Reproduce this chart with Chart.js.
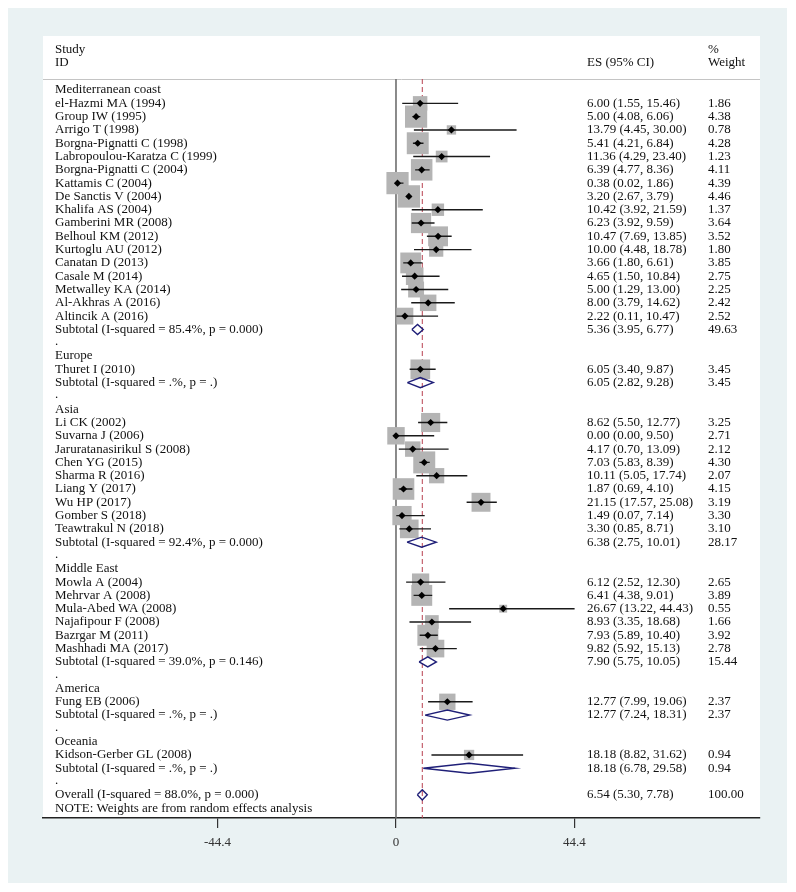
<!DOCTYPE html>
<html>
<head>
<meta charset="utf-8">
<script src="https://cdn.jsdelivr.net/npm/chart.js@4.4.1/dist/chart.umd.min.js"></script>
<style>
  html, body { margin: 0; padding: 0; background: #ffffff; }
  #wrap { position: relative; width: 796px; height: 892px; }
</style>
</head>
<body>
<div id="wrap"><canvas id="c"></canvas></div>
<script>
// ---------------- DATA ----------------
const groups = ['Mediterranean coast', 'Europe', 'Asia', 'Middle East', 'America', 'Oceania'];

const studies = [
  'el-Hazmi MA (1994)', 'Group IW (1995)', 'Arrigo T (1998)', 'Borgna-Pignatti C (1998)',
  'Labropoulou-Karatza C (1999)', 'Borgna-Pignatti C (2004)', 'Kattamis C (2004)', 'De Sanctis V (2004)',
  'Khalifa AS (2004)', 'Gamberini MR (2008)', 'Belhoul KM (2012)', 'Kurtoglu AU (2012)',
  'Canatan D (2013)', 'Casale M (2014)', 'Metwalley KA (2014)', 'Al-Akhras A (2016)', 'Altincik A (2016)',
  'Thuret I (2010)',
  'Li CK (2002)', 'Suvarna J (2006)', 'Jaruratanasirikul S (2008)', 'Chen YG (2015)', 'Sharma R (2016)',
  'Liang Y (2017)', 'Wu HP (2017)', 'Gomber S (2018)', 'Teawtrakul N (2018)',
  'Mowla A (2004)', 'Mehrvar A (2008)', 'Mula-Abed WA (2008)', 'Najafipour F (2008)', 'Bazrgar M (2011)', 'Mashhadi MA (2017)',
  'Fung EB (2006)',
  'Kidson-Gerber GL (2008)'
];
const studyGroup = [
  0,0,0,0,0,0,0,0,0,0,0,0,0,0,0,0,0,
  1,
  2,2,2,2,2,2,2,2,2,
  3,3,3,3,3,3,
  4,
  5
];
const esVal = [
  6.00, 5.00, 13.79, 5.41, 11.36, 6.39, 0.38, 3.20, 10.42, 6.23, 10.47, 10.00, 3.66, 4.65, 5.00, 8.00, 2.22,
  6.05,
  8.62, 0.00, 4.17, 7.03, 10.11, 1.87, 21.15, 1.49, 3.30,
  6.12, 6.41, 26.67, 8.93, 7.93, 9.82,
  12.77,
  18.18
];
const ciLow = [
  1.55, 4.08, 4.45, 4.21, 4.29, 4.77, 0.02, 2.67, 3.92, 3.92, 7.69, 4.48, 1.80, 1.50, 1.29, 3.79, 0.11,
  3.40,
  5.50, 0.00, 0.70, 5.83, 5.05, 0.69, 17.57, 0.07, 0.85,
  2.52, 4.38, 13.22, 3.35, 5.89, 5.92,
  7.99,
  8.82
];
const ciHigh = [
  15.46, 6.06, 30.00, 6.84, 23.40, 8.36, 1.86, 3.79, 21.59, 9.59, 13.85, 18.78, 6.61, 10.84, 13.00, 14.62, 10.47,
  9.87,
  12.77, 9.50, 13.09, 8.39, 17.74, 4.10, 25.08, 7.14, 8.71,
  12.30, 9.01, 44.43, 18.68, 10.40, 15.13,
  19.06,
  31.62
];
const weights = [
  1.86, 4.38, 0.78, 4.28, 1.23, 4.11, 4.39, 4.46, 1.37, 3.64, 3.52, 1.80, 3.85, 2.75, 2.25, 2.42, 2.52,
  3.45,
  3.25, 2.71, 2.12, 4.30, 2.07, 4.15, 3.19, 3.30, 3.10,
  2.65, 3.89, 0.55, 1.66, 3.92, 2.78,
  2.37,
  0.94
];

const subLabels = [
  'Subtotal (I-squared = 85.4%, p = 0.000)', 'Subtotal (I-squared = .%, p = .)',
  'Subtotal (I-squared = 92.4%, p = 0.000)', 'Subtotal (I-squared = 39.0%, p = 0.146)',
  'Subtotal (I-squared = .%, p = .)', 'Subtotal (I-squared = .%, p = .)'
];
const subES   = [5.36, 6.05, 6.38, 7.90, 12.77, 18.18];
const subLow  = [3.95, 2.82, 2.75, 5.75, 7.24, 6.78];
const subHigh = [6.77, 9.28, 10.01, 10.05, 18.31, 29.58];
const subWeight = [49.63, 3.45, 28.17, 15.44, 2.37, 0.94];

const overallLabel = 'Overall (I-squared = 88.0%, p = 0.000)';
const overallES = 6.54, overallLow = 5.30, overallHigh = 7.78, overallWeight = 100.00;
const noteText = 'NOTE: Weights are from random effects analysis';

const xTicks = [-44.4, 0, 44.4];

// ---------------- ROW LAYOUT ----------------
const rows = [];
const studyRow = new Array(studies.length);
const subRow = new Array(groups.length);
let r = 1;
groups.forEach((g, gi) => {
  rows.push({ row: r++, type: 'group', text: g });
  studies.forEach((s, i) => {
    if (studyGroup[i] === gi) { studyRow[i] = r; rows.push({ row: r++, type: 'study', i }); }
  });
  subRow[gi] = r;
  rows.push({ row: r++, type: 'sub', gi });
  rows.push({ row: r++, type: 'dot' });
});
const overallRow = r;
rows.push({ row: r++, type: 'overall' });
rows.push({ row: r++, type: 'note' });

const Y_MIN = 0.17, Y_MAX = 55.74;
const fmt = v => v.toFixed(2);
const GAP = () => ({ x: NaN, y: NaN });

// ---------------- DATASETS ----------------
const boxData = studies.map((s, i) => ({ x: esVal[i], y: studyRow[i] }));
const boxRadius = weights.map(w => 10.6 * Math.sqrt(w) / Math.SQRT2);
const pointData = studies.map((s, i) => ({ x: esVal[i], y: studyRow[i] }));

const ciData = [];
studies.forEach((s, i) => {
  ciData.push({ x: ciLow[i], y: studyRow[i] }, { x: ciHigh[i], y: studyRow[i] }, GAP());
});

const dh = 0.38;
const diamondData = [];
function addDiamond(es, lo, hi, row) {
  diamondData.push({ x: lo, y: row }, { x: es, y: row - dh }, { x: hi, y: row },
                   { x: es, y: row + dh }, { x: lo, y: row }, GAP());
}
subES.forEach((e, gi) => addDiamond(e, subLow[gi], subHigh[gi], subRow[gi]));
addDiamond(overallES, overallLow, overallHigh, overallRow);

// ---------------- PLUGINS ----------------
const FONT = '13px "Liberation Serif", "Times New Roman", serif';
const TXT = '#111111';

const bgPlugin = {
  id: 'bg',
  beforeDraw(chart) {
    const ctx = chart.ctx, ca = chart.chartArea;
    ctx.save();
    ctx.fillStyle = '#ffffff';
    ctx.fillRect(0, 0, chart.width, chart.height);
    ctx.fillStyle = '#eaf2f3';
    ctx.fillRect(8, 8, 779, 875);
    ctx.fillStyle = '#ffffff';
    ctx.fillRect(ca.left, 36, ca.right - ca.left, ca.bottom - 36);
    ctx.strokeStyle = '#c4c4c4';
    ctx.lineWidth = 1;
    ctx.beginPath();
    ctx.moveTo(ca.left, Math.round(ca.top) + 0.5);
    ctx.lineTo(ca.right, Math.round(ca.top) + 0.5);
    ctx.stroke();
    ctx.restore();
  }
};

const textPlugin = {
  id: 'texts',
  afterDraw(chart) {
    const ctx = chart.ctx, ys = chart.scales.y;
    const xName = 55, xES = 587, xW = 708;
    ctx.save();
    ctx.font = FONT;
    ctx.fillStyle = TXT;
    ctx.textBaseline = 'middle';
    ctx.textAlign = 'left';
    // header
    ctx.fillText('Study', xName, 50);
    ctx.fillText('ID', xName, 63);
    ctx.fillText('ES (95% CI)', xES, 63);
    ctx.fillText('%', xW, 50);
    ctx.fillText('Weight', xW, 63);
    rows.forEach(rw => {
      const y = ys.getPixelForValue(rw.row);
      if (rw.type === 'group') ctx.fillText(rw.text, xName, y);
      else if (rw.type === 'dot') ctx.fillText('.', xName, y - 1);
      else if (rw.type === 'study') {
        const i = rw.i;
        ctx.fillText(studies[i], xName, y);
        ctx.fillText(fmt(esVal[i]) + ' (' + fmt(ciLow[i]) + ', ' + fmt(ciHigh[i]) + ')', xES, y);
        ctx.fillText(fmt(weights[i]), xW, y);
      } else if (rw.type === 'sub') {
        const g = rw.gi;
        ctx.fillText(subLabels[g], xName, y);
        ctx.fillText(fmt(subES[g]) + ' (' + fmt(subLow[g]) + ', ' + fmt(subHigh[g]) + ')', xES, y);
        ctx.fillText(fmt(subWeight[g]), xW, y);
      } else if (rw.type === 'overall') {
        ctx.fillText(overallLabel, xName, y);
        ctx.fillText(fmt(overallES) + ' (' + fmt(overallLow) + ', ' + fmt(overallHigh) + ')', xES, y);
        ctx.fillText(fmt(overallWeight), xW, y);
      } else if (rw.type === 'note') {
        ctx.fillText(noteText, xName, y);
      }
    });
    ctx.restore();
  }
};

// ---------------- CHART ----------------
const X_MIN = -87.81, X_MAX = 90.55;

new Chart(document.getElementById('c'), {
  type: 'scatter',
  data: {
    datasets: [
      { // point estimates (on top)
        type: 'scatter', data: pointData, order: 1,
        pointStyle: 'rectRot', pointRadius: 3.6, pointHoverRadius: 3.6,
        backgroundColor: '#000000', borderWidth: 0
      },
      { // CI lines
        type: 'line', data: ciData, order: 2, showLine: true, spanGaps: false,
        pointRadius: 0, borderColor: '#1a1a1a', borderWidth: 1.4, fill: false
      },
      { // subtotal / overall diamonds
        type: 'line', data: diamondData, order: 3, showLine: true, spanGaps: false,
        pointRadius: 0, borderColor: '#1f1f78', borderWidth: 1.4, fill: false, tension: 0
      },
      { // weight boxes
        type: 'scatter', data: boxData, order: 4,
        pointStyle: 'rect', pointRadius: boxRadius, pointHoverRadius: boxRadius,
        backgroundColor: '#b4b4b4', borderWidth: 0
      },
      { // null line
        type: 'line', data: [{ x: 0, y: Y_MIN }, { x: 0, y: Y_MAX }], order: 5,
        pointRadius: 0, borderColor: '#6e6e6e', borderWidth: 1.6
      },
      { // overall effect dashed line
        type: 'line', data: [{ x: overallES, y: Y_MIN }, { x: overallES, y: Y_MAX }], order: 6,
        pointRadius: 0, borderColor: '#b8404f', borderWidth: 1, borderDash: [5, 3]
      }
    ]
  },
  options: {
    responsive: true,
    maintainAspectRatio: false,
    animation: false,
    events: [],
    layout: { padding: { left: 43, right: 36, top: 79, bottom: 0 } },
    plugins: { legend: { display: false }, tooltip: { enabled: false } },
    scales: {
      x: {
        type: 'linear', min: X_MIN, max: X_MAX, position: 'bottom',
        afterBuildTicks: s => { s.ticks = xTicks.map(v => ({ value: v })); },
        afterFit: s => { s.height = 74; },
        grid: { drawOnChartArea: false, drawTicks: true, tickLength: 10, color: '#333333', lineWidth: 1.2 },
        border: { display: true, color: '#222222', width: 1.4 },
        ticks: {
          padding: 7, color: '#333333', maxRotation: 0, autoSkip: false,
          font: { family: '"Liberation Serif", "Times New Roman", serif', size: 13 },
          callback: v => String(v)
        }
      },
      y: {
        type: 'linear', min: Y_MIN, max: Y_MAX, reverse: true, display: false
      }
    }
  },
  plugins: [bgPlugin, textPlugin]
});
</script>
</body>
</html>
